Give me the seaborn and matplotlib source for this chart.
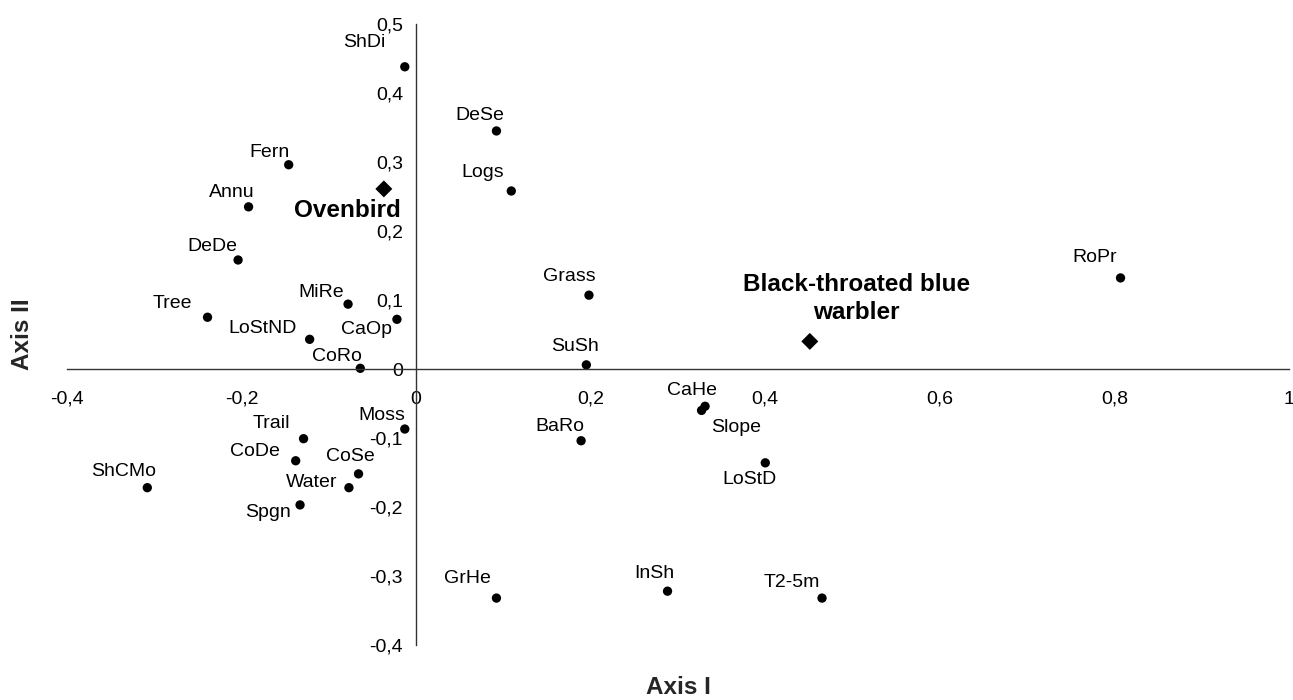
import matplotlib
matplotlib.use('Agg')
import matplotlib.pyplot as plt
import seaborn as sns
import pandas as pd

# habitat variables (Axis I, Axis II)
var_names = ['ShDi', 'DeSe', 'Fern', 'Logs', 'Annu', 'DeDe', 'RoPr', 'Grass', 'Tree', 'MiRe',
             'LoStND', 'CaOp', 'CoRo', 'SuSh', 'CaHe', 'Slope', 'Moss', 'Trail', 'BaRo', 'CoDe',
             'LoStD', 'CoSe', 'ShCMo', 'Water', 'Spgn', 'GrHe', 'InSh', 'T2-5m']
var_x = [-0.013, 0.092, -0.146, 0.109, -0.192, -0.204, 0.807, 0.198, -0.239, -0.078,
         -0.122, -0.022, -0.064, 0.195, 0.331, 0.327, -0.013, -0.129, 0.189, -0.138,
         0.400, -0.066, -0.308, -0.077, -0.133, 0.092, 0.288, 0.465]
var_y = [0.438, 0.345, 0.296, 0.258, 0.235, 0.158, 0.132, 0.107, 0.075, 0.094,
         0.043, 0.072, 0.001, 0.006, -0.054, -0.060, -0.087, -0.101, -0.104, -0.133,
         -0.136, -0.152, -0.172, -0.172, -0.197, -0.332, -0.322, -0.332]

# bird species
species_names = ['Ovenbird', 'Black-throated blue\nwarbler']
species_x = [-0.037, 0.451]
species_y = [0.261, 0.040]

# label offsets in pixels (dx, dy up)
var_offsets = {
    'ShDi': (-40, 24), 'DeSe': (-17, 15), 'Fern': (-19, 12), 'Logs': (-29, 18),
    'Annu': (-17, 14), 'DeDe': (-26, 13), 'RoPr': (-26, 20), 'Grass': (-20, 19),
    'Tree': (-35, 14), 'MiRe': (-27, 12), 'LoStND': (-47, 11), 'CaOp': (-30, -10),
    'CoRo': (-23, 12), 'SuSh': (-11, 18), 'CaHe': (-13, 16), 'Slope': (35, -17),
    'Moss': (-23, 14), 'Trail': (-32, 15), 'BaRo': (-21, 14), 'CoDe': (-41, 9),
    'LoStD': (-16, -17), 'CoSe': (-8, 17), 'ShCMo': (-24, 16), 'Water': (-37, 5),
    'Spgn': (-32, -8), 'GrHe': (-29, 20), 'InSh': (-13, 18), 'T2-5m': (-30, 16),
}
species_offsets = [(-36, -22), (47, 43)]

x_ticks = [-0.4, -0.2, 0, 0.2, 0.4, 0.6, 0.8, 1.0]
x_ticklabels = ['-0,4', '-0,2', '0', '0,2', '0,4', '0,6', '0,8', '1']
y_ticks = [-0.4, -0.3, -0.2, -0.1, 0, 0.1, 0.2, 0.3, 0.4, 0.5]
y_ticklabels = ['-0,4', '-0,3', '-0,2', '-0,1', '0', '0,1', '0,2', '0,3', '0,4', '0,5']

sns.set_style('white')
plt.rcParams['font.family'] = ['Liberation Sans', 'DejaVu Sans']

vars_df = pd.DataFrame({'name': var_names, 'x': var_x, 'y': var_y})
spec_df = pd.DataFrame({'name': species_names, 'x': species_x, 'y': species_y})

fig = plt.figure(figsize=(12.93, 7), dpi=100)
ax = fig.add_axes([67 / 1293, 55 / 700, 1222 / 1293, 621 / 700])

sns.scatterplot(data=vars_df, x='x', y='y', color='black', s=45, edgecolor='none',
                marker='o', ax=ax, legend=False)
sns.scatterplot(data=spec_df, x='x', y='y', color='black', s=75, edgecolor='none',
                marker='D', ax=ax, legend=False)

for n, xv, yv in zip(var_names, var_x, var_y):
    dx, dy = var_offsets[n]
    ax.annotate(n, (xv, yv), xytext=(dx, dy), textcoords='offset pixels',
                ha='center', va='center', fontsize=14, color='black')

for n, xv, yv, (dx, dy) in zip(species_names, species_x, species_y, species_offsets):
    ax.annotate(n, (xv, yv), xytext=(dx, dy), textcoords='offset pixels',
                ha='center', va='center', fontsize=17.5, fontweight='bold',
                color='black', linespacing=1.3)

ax.set_xlim(-0.4, 1.0)
ax.set_ylim(-0.4, 0.5)

for s in ['top', 'right']:
    ax.spines[s].set_visible(False)
ax.spines['left'].set_position(('data', 0))
ax.spines['bottom'].set_position(('data', 0))
for s in ['left', 'bottom']:
    ax.spines[s].set_color('#333333')
    ax.spines[s].set_linewidth(1.0)

ax.set_xticks(x_ticks)
ax.set_xticklabels(x_ticklabels)
ax.set_yticks(y_ticks)
ax.set_yticklabels(y_ticklabels)
ax.tick_params(axis='x', direction='out', length=4.5, width=1, pad=11, labelsize=14,
               colors='black')
ax.tick_params(axis='y', direction='out', length=4.5, width=1, pad=5, labelsize=14,
               colors='black')
ax.grid(False)

ax.set_xlabel('Axis I', fontsize=17.5, fontweight='bold')
ax.set_ylabel('Axis II', fontsize=17.5, fontweight='bold')
ax.xaxis.set_label_coords(0.5, -0.05)
ax.yaxis.set_label_coords(-0.027, 0.5)

fig.savefig('out.png', dpi=100, facecolor='white')
